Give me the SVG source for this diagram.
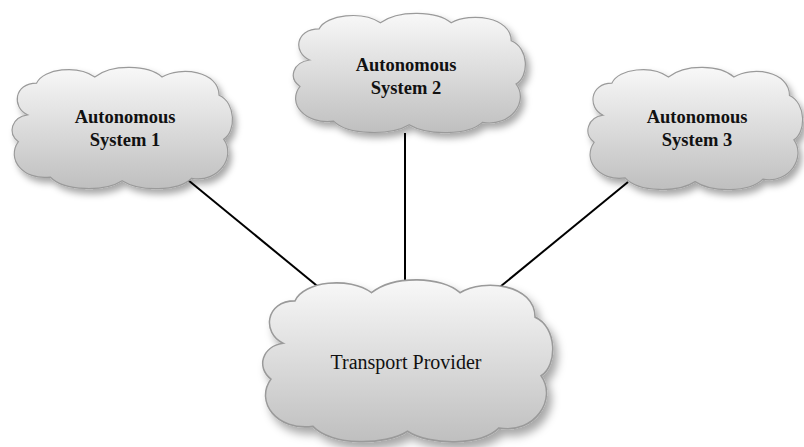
<svg xmlns="http://www.w3.org/2000/svg" width="804" height="447" viewBox="0 0 804 447">
<defs>
<linearGradient id="g" x1="0" y1="0" x2="0" y2="1">
<stop offset="0" stop-color="#f8f8f8"/>
<stop offset="1" stop-color="#bfbfbf"/>
</linearGradient>
<filter id="sh" x="-10%" y="-10%" width="125%" height="130%">
<feDropShadow dx="3" dy="4" stdDeviation="3" flood-color="#000" flood-opacity="0.35"/>
</filter>
<path id="cloud" d="M 18,40 C 4,34 6,14 26,14 C 32,2 62,-1 77,9 C 92,-2 124,-1 136,9 C 152,0 186,4 186,24 C 201,30 201,54 190,60 C 201,74 186,96 162,92 C 150,103 116,103 101,94 C 86,103 50,103 38,91 C 14,94 -1,76 10,62 C 0,55 4,42 18,40 Z"/>
</defs>
<style>
.c{fill:url(#g);stroke:#9a9a9a;stroke-width:1;filter:url(#sh)}
.t{font-family:"Liberation Serif","Times New Roman",serif;text-anchor:middle;fill:#111}
.b{font-weight:bold;font-size:18.5px}
.r{font-size:20px}
.l{stroke:#000;stroke-width:2;fill:none}
</style>
<rect width="804" height="447" fill="#fff"/>
<g id="connectors">
<line class="l" x1="188" y1="180" x2="327" y2="294"/>
<line class="l" x1="405" y1="133" x2="405" y2="280"/>
<line class="l" x1="628" y1="182" x2="495" y2="291"/>
</g>
<g id="as1">
<use href="#cloud" class="c" transform="translate(7,66) scale(1.14,1.22)"/>
<text class="t b" x="125" y="123">Autonomous</text>
<text class="t b" x="125" y="146">System 1</text>
</g>
<g id="as2">
<use href="#cloud" class="c" transform="translate(288,12) scale(1.2,1.2)"/>
<text class="t b" x="406" y="71">Autonomous</text>
<text class="t b" x="406" y="94">System 2</text>
</g>
<g id="as3">
<use href="#cloud" class="c" transform="translate(583,66) scale(1.11,1.23)"/>
<text class="t b" x="697" y="123">Autonomous</text>
<text class="t b" x="697" y="146">System 3</text>
</g>
<g id="tp">
<use href="#cloud" class="c" transform="translate(256,278) scale(1.5,1.63)"/>
<text class="t r" x="406" y="369">Transport Provider</text>
</g>
</svg>
